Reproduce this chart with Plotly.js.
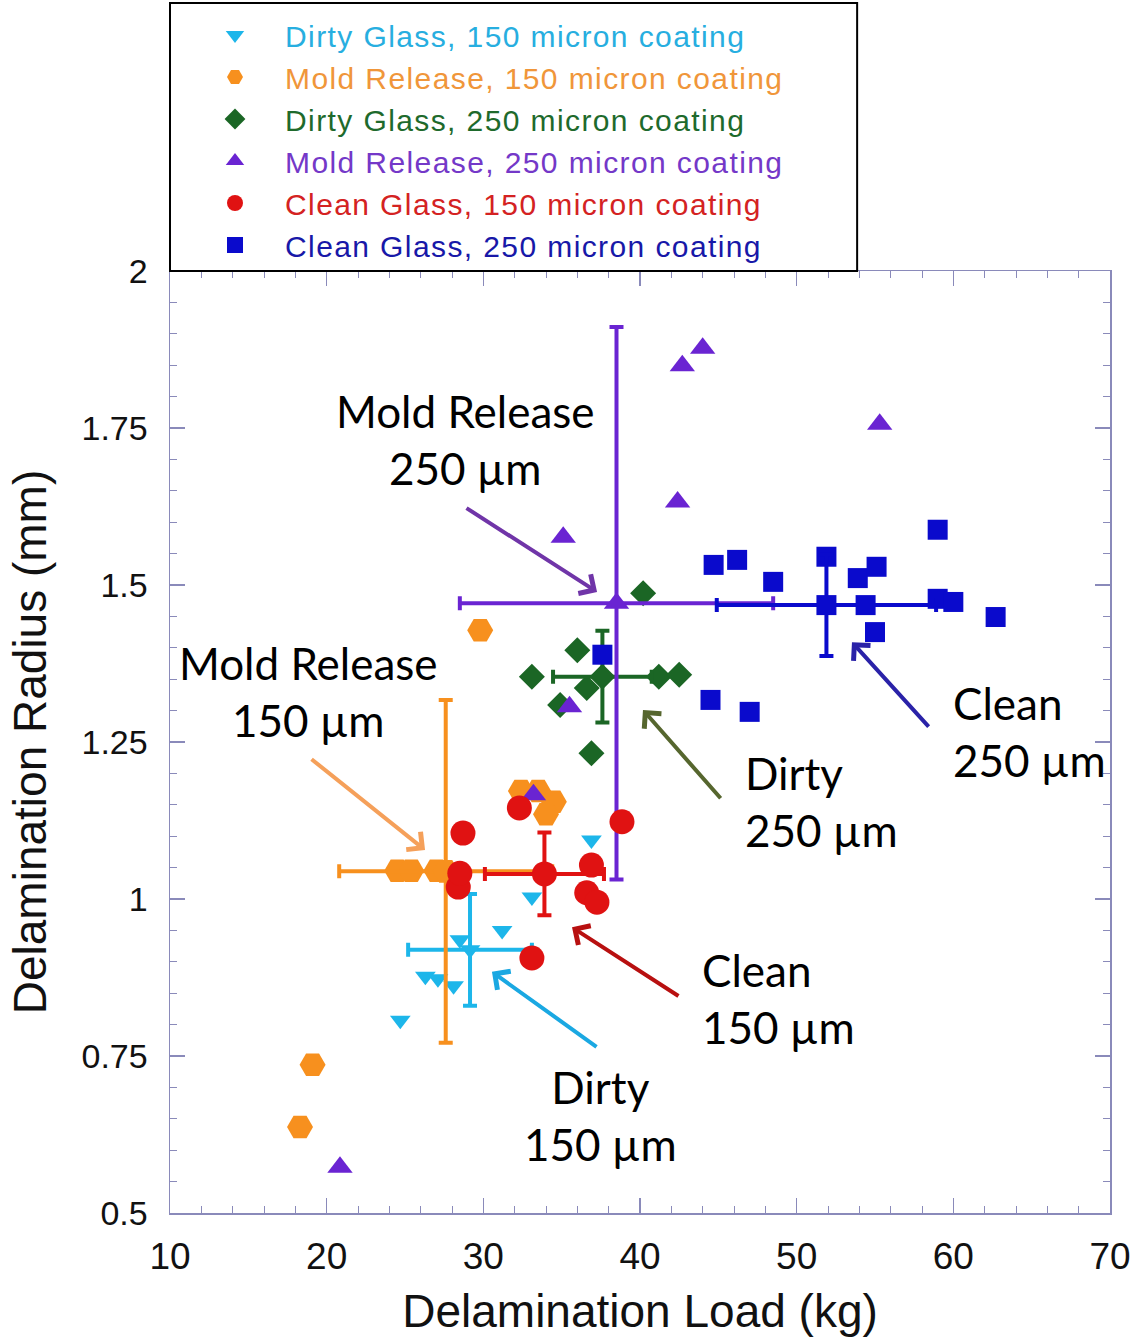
<!DOCTYPE html>
<html>
<head>
<meta charset="utf-8">
<script src="https://cdn.plot.ly/plotly-3.0.1.min.js"></script>
<style>html,body{margin:0;padding:0;background:#fff;}#chart{width:1142px;height:1337px;}</style>
</head>
<body>
<div id="chart"></div>
<script>
// ---- Data ----
const dirty150X = [24.7, 26.3, 27.1, 28.1, 28.5, 31.2, 33.1, 36.9];
const dirty150Y = [0.807, 0.877, 0.873, 0.862, 0.935, 0.950, 1.003, 1.094];
const dirty150Mean = [29.15, 0.919];
const dirty150Err = [3.95, 0.089];

const mold150X = [18.3, 19.1, 24.5, 25.4, 27.0, 29.8, 32.4, 33.5, 34.5, 34.0];
const mold150Y = [0.637, 0.736, 1.045, 1.045, 1.045, 1.428, 1.172, 1.172, 1.155, 1.135];
const mold150Mean = [27.6, 1.044];
const mold150Err = [6.8, 0.273];

const dirty250X = [33.1, 34.9, 36.0, 36.6, 36.9, 40.2, 41.2, 42.5];
const dirty250Y = [1.354, 1.309, 1.396, 1.336, 1.232, 1.487, 1.354, 1.357];
const dirty250Mean = [37.6, 1.354];
const dirty250Err = [3.15, 0.073];

const mold250X = [20.85, 33.2, 35.1, 35.5, 42.4, 42.7, 44.0, 55.3];
const mold250Y = [0.573, 1.166, 1.576, 1.306, 1.632, 1.849, 1.877, 1.756];
const mold250Mean = [38.5, 1.471];
const mold250Err = [10.0, 0.44];

const clean150X = [28.4, 28.5, 28.7, 32.3, 33.1, 36.6, 36.9, 37.25, 38.85];
const clean150Y = [1.019, 1.041, 1.105, 1.145, 0.906, 1.010, 1.054, 0.995, 1.123];
const clean150Mean = [33.9, 1.040];
const clean150Err = [3.8, 0.066];

const clean250X = [37.6, 44.5, 44.7, 46.2, 47.0, 48.5, 51.9, 53.9, 54.4, 55.0, 55.1, 59.0, 59.0, 60.0, 62.7];
const clean250Y = [1.389, 1.317, 1.532, 1.540, 1.298, 1.505, 1.545, 1.511, 1.468, 1.425, 1.529, 1.588, 1.478, 1.473, 1.449];
const clean250Mean = [51.9, 1.468];
const clean250Err = [7.0, 0.081];

const seriesNames = [
  'Dirty Glass, 150 micron coating',
  'Mold Release, 150 micron coating',
  'Dirty Glass, 250 micron coating',
  'Mold Release, 250 micron coating',
  'Clean Glass, 150 micron coating',
  'Clean Glass, 250 micron coating'
];
const xTickVals = [10, 20, 30, 40, 50, 60, 70];
const yTickVals = [0.5, 0.75, 1, 1.25, 1.5, 1.75, 2];

// ---- Styles ----
const S = {
  dirty150: {mc:'#1DB6EA', tc:'#27AEE0', sym:'triangle-down', size:18, rank:1, name:seriesNames[0]},
  mold150:  {mc:'#F7901E', tc:'#F0963A', sym:'hexagon2', size:26, rank:2, name:seriesNames[1]},
  dirty250: {mc:'#1B6625', tc:'#1E6A2C', sym:'diamond', size:20, rank:3, name:seriesNames[2]},
  mold250:  {mc:'#6A24D2', tc:'#7438C8', sym:'triangle-up', size:22, rank:4, name:seriesNames[3]},
  clean150: {mc:'#E01212', tc:'#D42222', sym:'circle', size:25, rank:5, name:seriesNames[4]},
  clean250: {mc:'#0A0ACC', tc:'#1818A8', sym:'square', size:20, rank:6, name:seriesNames[5]}
};

function pts(key, xs, ys) {
  const s = S[key];
  return {
    type:'scatter', mode:'markers', x:xs, y:ys, cliponaxis:false,
    name:'<span style="color:' + s.tc + ';letter-spacing:1.4px">' + s.name + '</span>',
    legendrank:s.rank, legendgroup:key,
    marker:{symbol:s.sym, size:s.size, color:s.mc, line:{width:0}}
  };
}
function mean(key, m, e) {
  const s = S[key];
  return {
    type:'scatter', mode:'markers', x:[m[0]], y:[m[1]], showlegend:false, legendgroup:key,
    marker:{symbol:s.sym, size:s.size, color:s.mc, line:{width:0}},
    error_x:{type:'constant', value:e[0], color:s.mc, thickness:4, width:7},
    error_y:{type:'constant', value:e[1], color:s.mc, thickness:4, width:7}
  };
}

const data = [
  pts('dirty150', dirty150X, dirty150Y), mean('dirty150', dirty150Mean, dirty150Err),
  pts('mold150', mold150X, mold150Y), mean('mold150', mold150Mean, mold150Err),
  pts('dirty250', dirty250X, dirty250Y), mean('dirty250', dirty250Mean, dirty250Err),
  pts('mold250', mold250X, mold250Y), mean('mold250', mold250Mean, mold250Err),
  pts('clean250', clean250X, clean250Y), mean('clean250', clean250Mean, clean250Err),
  pts('clean150', clean150X, clean150Y), mean('clean150', clean150Mean, clean150Err)
];

const txtFont = {family:'Lato, "Open Sans", sans-serif', size:44, color:'#000'};
function label(text, x, y, xanchor, align) {
  return {text:text, x:x, y:y, xref:'x', yref:'y', showarrow:false,
          xanchor:xanchor, yanchor:'middle', align:align, font:txtFont};
}
function arrow(color, hx, hy, tx, ty) {
  return {text:'', x:hx, y:hy, ax:tx, ay:ty, xref:'x', yref:'y', axref:'x', ayref:'y',
          showarrow:true, arrowhead:4, arrowsize:1.1, arrowwidth:4, arrowcolor:color,
          standoff:0, startstandoff:0};
}

const axisCol = '#8A8ABA';
const layout = {
  width:1142, height:1337,
  margin:{l:170, r:32, t:271, b:124, autoexpand:false},
  paper_bgcolor:'#fff', plot_bgcolor:'#fff',
  showlegend:true,
  legend:{x:0, y:1, xanchor:'left', yanchor:'bottom', bgcolor:'rgba(0,0,0,0)', borderwidth:0,
          font:{family:'"Liberation Sans", Arial, sans-serif', size:30},
          itemwidth:90, indentation:15, itemsizing:'trace', tracegroupgap:0},
  xaxis:{range:[10,70], tickvals:xTickVals, ticks:'inside', ticklen:15, tickwidth:1.2,
         tickcolor:axisCol, showline:true, linecolor:axisCol, linewidth:1.5, mirror:'ticks',
         showgrid:false, zeroline:false, ticklabelstandoff:10,
         minor:{dtick:2, ticks:'inside', ticklen:7, tickcolor:axisCol, tickwidth:1, showgrid:false},
         tickfont:{family:'"Liberation Sans", Arial, sans-serif', size:37, color:'#111'},
         title:{text:'Delamination Load (kg)', standoff:20,
                font:{family:'"Liberation Sans", Arial, sans-serif', size:46, color:'#111'}}},
  yaxis:{range:[0.5,2], tickvals:yTickVals, ticks:'inside', ticklen:15, tickwidth:1.2,
         tickcolor:axisCol, showline:true, linecolor:axisCol, linewidth:1.5, mirror:'ticks',
         showgrid:false, zeroline:false, ticklabelstandoff:14,
         minor:{dtick:0.05, ticks:'inside', ticklen:7, tickcolor:axisCol, tickwidth:1, showgrid:false},
         tickfont:{family:'"Liberation Sans", Arial, sans-serif', size:34, color:'#111'},
         title:{text:'Delamination Radius (mm)', standoff:20,
                font:{family:'"Liberation Sans", Arial, sans-serif', size:46, color:'#111'}}},
  shapes:[{type:'rect', xref:'paper', yref:'paper', x0:0, x1:0.731, y0:1, y1:1.2845,
           line:{color:'#000', width:2}, fillcolor:'rgba(0,0,0,0)', layer:'above'}],
  annotations:[
    label('Mold Release<br>250 µm', 28.83, 1.731, 'center', 'center'),
    label('Mold Release<br>150 µm', 18.87, 1.330, 'center', 'center'),
    label('Dirty<br>250 µm', 46.57, 1.155, 'left', 'left'),
    label('Clean<br>250 µm', 59.85, 1.267, 'left', 'left'),
    label('Clean<br>150 µm', 43.83, 0.842, 'left', 'left'),
    label('Dirty<br>150 µm', 37.45, 0.656, 'center', 'center'),
    arrow('#7035A8', 37.26, 1.489, 28.83, 1.624),
    arrow('#F5A05A', 26.28, 1.078, 18.94, 1.2245),
    arrow('#56662E', 40.19, 1.301, 45.23, 1.158),
    arrow('#2A22A8', 53.53, 1.409, 58.51, 1.272),
    arrow('#B81010', 35.66, 0.955, 42.55, 0.844),
    arrow('#1AA8E2', 30.55, 0.884, 37.32, 0.763)
  ]
};

Plotly.newPlot('chart', data, layout, {displayModeBar:false, staticPlot:true});
</script>
</body>
</html>
